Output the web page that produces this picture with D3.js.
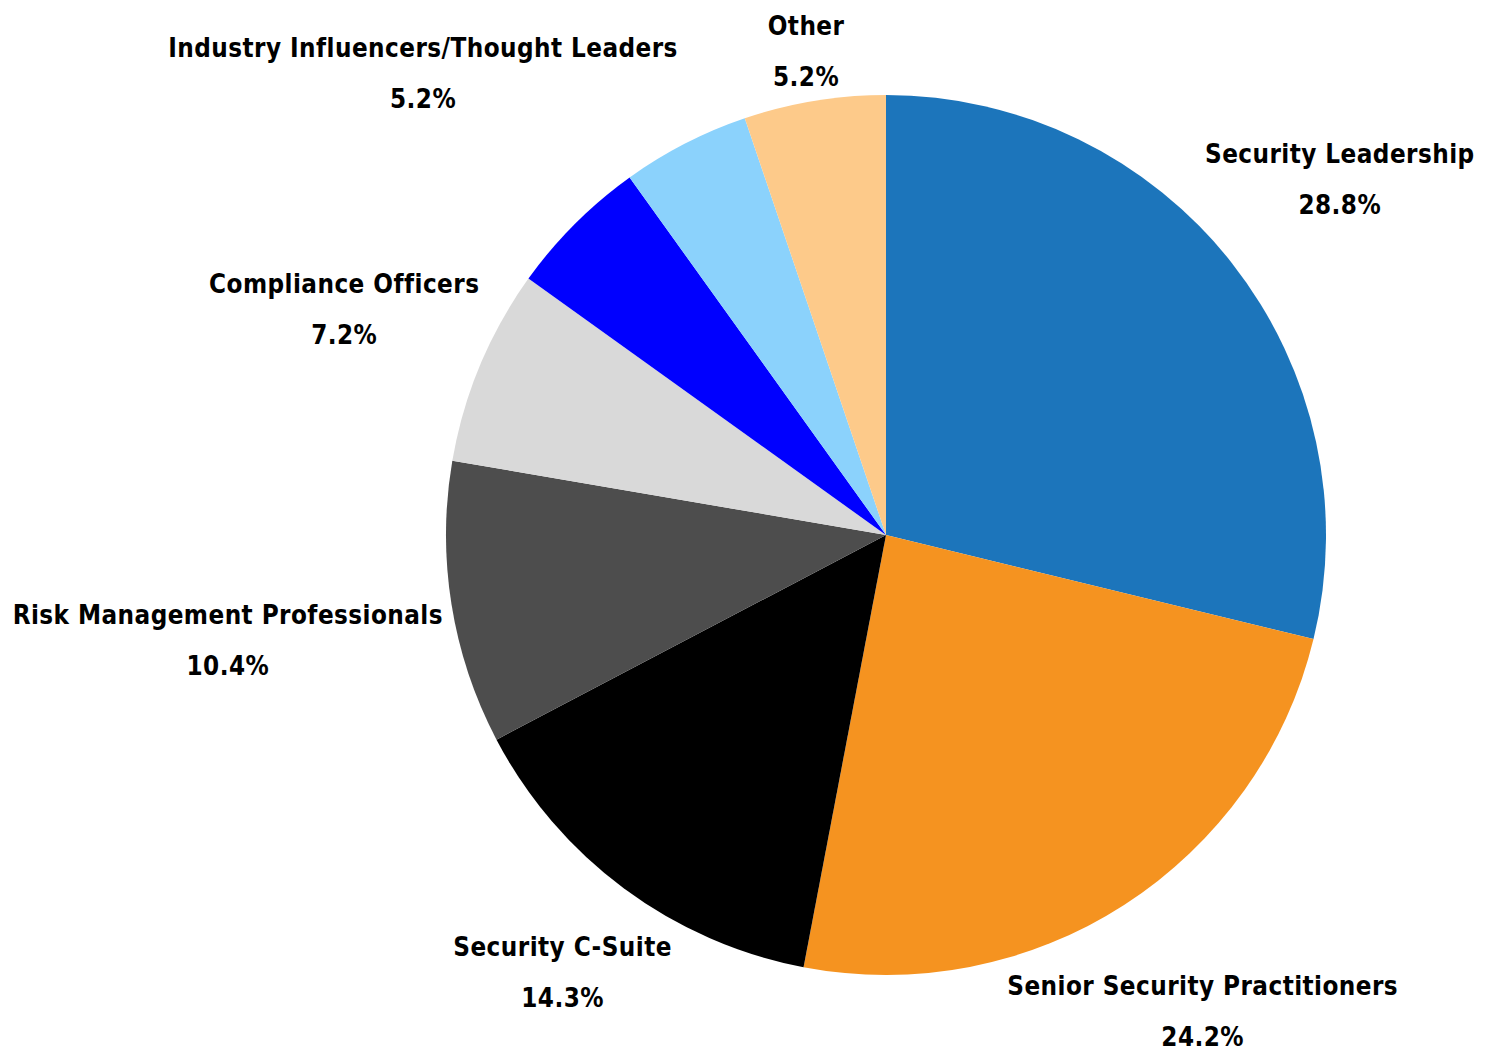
<!DOCTYPE html>
<html>
<head>
<meta charset="utf-8">
<script src="https://cdn.jsdelivr.net/npm/d3@7"></script>
<style>
  body { margin: 0; background: #fff; }
  svg text { font-family: "DejaVu Sans", sans-serif; font-weight: bold; }
</style>
</head>
<body>
<svg></svg>
<script>
var viewWidth = 1494;
var viewHeight = 1055;

var categories = ["Security Leadership", "Senior Security Practitioners", "Security C-Suite",
    "Risk Management Professionals", "Compliance Officers", "Industry Influencers/Thought Leaders",
    "", "Other"];
var shares = [28.8, 24.2, 14.3, 10.4, 7.2, 5.2, 4.7, 5.2];
var showLabel = [true, true, true, true, true, true, false, true];
var colors = ["#1c75bb", "#f59320", "#000000", "#4d4d4d", "#d9d9d9", "#0000ff", "#8bd2fc", "#fdca8a"];

var cx = 886, cy = 535, radius = 440;
var lineGap = 51, capH = 20;

var svg = d3.select("svg")
    .attr("width", viewWidth)
    .attr("height", viewHeight);

var g = svg.append("g")
    .attr("transform", "translate(" + cx + "," + cy + ")");

var data = categories.map(function(c, i) {
    return {name: c, value: shares[i], color: colors[i], show: showLabel[i]};
});

var pie = d3.pie()
    .sort(null)
    .value(function(d) { return d.value; });

var arc = d3.arc()
    .innerRadius(0)
    .outerRadius(radius);

var arcs = pie(data);

g.selectAll("path")
    .data(arcs)
    .enter()
    .append("path")
    .attr("d", arc)
    .attr("fill", function(d) { return d.data.color; });

// labels sit just outside the rim, pushed out along the mid angle
var labels = g.selectAll("g.label")
    .data(arcs.filter(function(d) { return d.data.show; }))
    .enter()
    .append("g")
    .attr("class", "label");

// no condensed face installed, so squeeze the text a bit
var txt = labels.append("text")
    .attr("text-anchor", "middle")
    .attr("transform", "scale(0.86,1)")
    .style("font-size", "27px")
    .style("letter-spacing", "0.5px")
    .attr("fill", "#000");

txt.append("tspan")
    .attr("x", 0)
    .attr("y", 0)
    .text(function(d) { return d.data.name; });

txt.append("tspan")
    .attr("x", 0)
    .attr("y", lineGap)
    .text(function(d) { return d3.format(".1f")(d.data.value) + "%"; });

labels.each(function(d) {
    var b = this.getBBox();
    var h = lineGap + capH + 4;
    var midY = (lineGap - capH) / 2;
    var a = (d.startAngle + d.endAngle) / 2;
    var vx = Math.sin(a), vy = -Math.cos(a);
    var dist = radius + 8 + Math.abs(vx) * b.width / 2 + Math.abs(vy) * h / 2;
    var px = vx * dist - (b.x + b.width / 2);
    var py = vy * dist - midY;
    // keep the block inside the picture
    py = Math.min(py, viewHeight - cy - 9 - lineGap);
    py = Math.max(py, -cy + capH + 4);
    d3.select(this).attr("transform", "translate(" + px + "," + py + ")");
});
</script>
</body>
</html>
